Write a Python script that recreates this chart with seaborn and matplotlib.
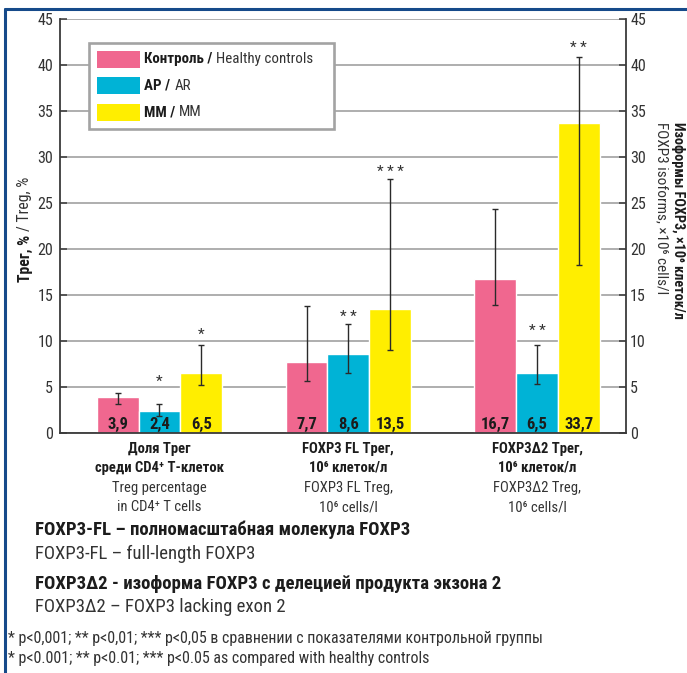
import matplotlib
matplotlib.use("Agg")
import matplotlib.pyplot as plt
import matplotlib.font_manager as fm
from matplotlib.lines import Line2D
from matplotlib.patches import Rectangle
from matplotlib.offsetbox import AnchoredOffsetbox, HPacker, VPacker, TextArea, DrawingArea
import numpy as np
import pandas as pd
import seaborn as sns

# ---------------- data ----------------
group_keys = ["treg_share", "foxp3_fl", "foxp3_d2"]
cohorts = ["Контроль", "АР", "ММ"]

control = [3.9, 7.7, 16.7]
ar = [2.4, 8.6, 6.5]
mm = [6.5, 13.5, 33.7]

# interquartile ranges (lower / upper whisker ends)
control_lo = [3.1, 5.6, 13.9]
control_hi = [4.3, 13.8, 24.3]
ar_lo = [1.8, 6.5, 5.3]
ar_hi = [3.2, 11.9, 9.6]
mm_lo = [5.2, 9.0, 18.3]
mm_hi = [9.6, 27.6, 40.9]

# significance marks vs. controls
control_marks = ["", "", ""]
ar_marks = ["*", "* *", "* *"]
mm_marks = ["*", "* * *", "* *"]
control_mark_y = [0, 0, 0]
ar_mark_y = [5.1, 12.2, 10.7]
mm_mark_y = [10.2, 27.9, 41.4]

legend_bold = ["Контроль /", "АР /", "ММ /"]
legend_regular = ["Healthy controls", "AR", "MM"]

cat_bold = [("Доля Трег", "среди CD4⁺ T-клеток"),
            ("FOXP3 FL Трег,", "10⁶ клеток/л"),
            ("FOXP3Δ2 Трег,", "10⁶ клеток/л")]
cat_regular = [("Treg percentage", "in CD4⁺ T cells"),
               ("FOXP3 FL Treg,", "10⁶ cells/l"),
               ("FOXP3Δ2 Treg,", "10⁶ cells/l")]

yticks = [0, 5, 10, 15, 20, 25, 30, 35, 40, 45]

notes = [("FOXP3-FL – полномасштабная молекула FOXP3", "bold"),
         ("FOXP3-FL – full-length FOXP3", "normal"),
         ("FOXP3Δ2 - изоформа FOXP3 с делецией продукта экзона 2", "bold"),
         ("FOXP3Δ2 – FOXP3 lacking exon 2", "normal")]
footnotes = ["* p<0,001; ** p<0,01; *** p<0,05 в сравнении с показателями контрольной группы",
             "* p<0.001; ** p<0.01; *** p<0.05 as compared with healthy controls"]

colors = {"Контроль": "#F0678F", "АР": "#00B3D6", "ММ": "#FFEE00"}

# ---------------- style ----------------
sns.set_style("white")
available = {f.name for f in fm.fontManager.ttflist}
base_font = next((n for n in ["Liberation Sans Narrow", "Roboto Condensed",
                              "Liberation Sans", "Roboto"] if n in available),
                 "DejaVu Sans")
plt.rcParams["font.family"] = [base_font, "DejaVu Sans"]

DARK = "#1c1c1c"
TXT = "#333333"
W, H = 687, 673


def fx(px):
    return px / W


def fy(py):
    return 1 - py / H


fig = plt.figure(figsize=(W / 100, H / 100), dpi=100)
ax = fig.add_axes([fx(60), fy(433), fx(626) - fx(60), fy(19) - fy(433)])

df = pd.DataFrame({
    "group": group_keys * 3,
    "cohort": np.repeat(cohorts, 3),
    "value": control + ar + mm,
})

sns.barplot(data=df, x="group", y="value", hue="cohort", order=group_keys,
            hue_order=cohorts, palette=colors, width=0.663, gap=0,
            errorbar=None, legend=False, saturation=1, ax=ax, zorder=2)

ax.set_xlim(-0.527, 2.471)
ax.set_ylim(0, 45)
ax.set_xlabel("")
ax.set_ylabel("")

# whiskers, value labels and significance marks
los = [control_lo, ar_lo, mm_lo]
his = [control_hi, ar_hi, mm_hi]
vals = [control, ar, mm]
marks = [control_marks, ar_marks, mm_marks]
mark_y = [control_mark_y, ar_mark_y, mm_mark_y]
for cont, v, lo, hi, mk, my in zip(ax.containers, vals, los, his, marks, mark_y):
    xs = np.array([b.get_x() + b.get_width() / 2 for b in cont])
    v = np.array(v)
    ax.errorbar(xs, v, yerr=[v - np.array(lo), np.array(hi) - v], fmt="none",
                ecolor="#2a2a2a", elinewidth=1.0, capsize=2.3, capthick=1.0,
                zorder=4)
    for x, val, m, h in zip(xs, v, mk, my):
        ax.annotate(f"{val:.1f}".replace(".", ","), xy=(x, 0), xytext=(0, 3),
                    textcoords="offset points", ha="center", va="baseline",
                    fontsize=12, fontweight="bold", color=DARK, zorder=5)
        if m:
            ax.text(x, h, m, ha="center", va="baseline", fontsize=11,
                    color=TXT, zorder=5)

# grid and spines
ax.yaxis.grid(True, color="#a8a8a8", lw=1.3)
ax.xaxis.grid(False)
ax.set_axisbelow(True)
for s in ["left", "bottom"]:
    ax.spines[s].set_color("#3a3a3a")
    ax.spines[s].set_linewidth(1.3)
ax.spines["top"].set_visible(False)
ax.spines["right"].set_visible(False)

ax.set_yticks(yticks)
ax.tick_params(axis="y", direction="in", length=5, width=1.1, color="#3a3a3a",
               pad=5, labelsize=11.5, labelcolor=TXT)
ax.set_xticks([0, 1, 2])
ax.set_xticklabels([])
ax.tick_params(axis="x", which="major", length=0)
ax.set_xticks([0.5, 1.5], minor=True)
ax.tick_params(axis="x", which="minor", direction="in", length=5, width=1.1,
               color="#3a3a3a")

ax2 = ax.twinx()
ax2.set_ylim(0, 45)
ax2.set_yticks(yticks)
ax2.tick_params(axis="y", direction="in", length=5, width=1.1, color="#3a3a3a",
                pad=3, labelsize=11.5, labelcolor=TXT)
for s in ["left", "bottom", "top"]:
    ax2.spines[s].set_visible(False)
ax2.spines["right"].set_color("#3a3a3a")
ax2.spines["right"].set_linewidth(1.3)

# category labels below the bars
xtr = ax.get_xaxis_transform()


def ax_y(py):
    return (433 - py) / (433 - 19)


for i, (b, r) in enumerate(zip(cat_bold, cat_regular)):
    ax.text(i, ax_y(449), b[0], transform=xtr, ha="center", va="center",
            fontsize=10.5, fontweight="bold", color=DARK, clip_on=False)
    ax.text(i, ax_y(468), b[1], transform=xtr, ha="center", va="center",
            fontsize=10.5, fontweight="bold", color=DARK, clip_on=False)
    ax.text(i, ax_y(488), r[0], transform=xtr, ha="center", va="center",
            fontsize=10.5, color=TXT, clip_on=False)
    ax.text(i, ax_y(507), r[1], transform=xtr, ha="center", va="center",
            fontsize=10.5, color=TXT, clip_on=False)

# legend with bold Russian and regular English parts
rows = []
for k, (name, bt, rt) in enumerate(zip(cohorts, legend_bold, legend_regular)):
    da = DrawingArea(31, 12.2, 0, 0)
    da.add_artist(Rectangle((0, 0), 31, 12.2, facecolor=colors[name],
                            edgecolor="none"))
    parts = [TextArea(bt, textprops=dict(fontsize=10.8, fontweight="bold", color=DARK)),
             TextArea(rt, textprops=dict(fontsize=10.8, color=TXT))]
    if k == 0:
        parts.append(DrawingArea(6, 1, 0, 0))
    texts = HPacker(children=parts, align="baseline", pad=0, sep=3)
    rows.append(HPacker(children=[da, texts], align="center", pad=0, sep=3))
legend_box = VPacker(children=rows, align="left", pad=0, sep=7.0)
anchored = AnchoredOffsetbox(loc="upper left", child=legend_box, pad=0.55,
                             borderpad=0, frameon=True, prop=dict(size=10),
                             bbox_to_anchor=(fx(89), fy(43)),
                             bbox_transform=fig.transFigure)
anchored.patch.set_boxstyle("square", pad=0)
anchored.patch.set_edgecolor("#a3a3a3")
anchored.patch.set_linewidth(1.9)
anchored.patch.set_facecolor("white")
anchored.set_zorder(6)
ax.add_artist(anchored)

# right axis title (two lines)
fig.text(fx(678), fy(122), "Изоформы FOXP3, ×10⁶ клеток/л", rotation=270,
         ha="center", va="top", fontsize=10.3, fontweight="bold", color=DARK)
fig.text(fx(662), fy(122), "FOXP3 isoforms, ×10⁶ cells/l", rotation=270,
         ha="center", va="top", fontsize=11, color=TXT)

# left axis title: bold part followed by regular part
t_bold = fig.text(fx(25), fy(282), "Трег, %", rotation=90, ha="center",
                  va="bottom", fontsize=11.3, fontweight="bold", color=DARK)
fig.canvas.draw()
bb = t_bold.get_window_extent(fig.canvas.get_renderer())
fig.text(fx(25), (bb.y1 + 4) / H, "/ Treg, %", rotation=90, ha="center",
         va="bottom", fontsize=11.3, color=TXT)

# explanatory notes
note_y = [530, 554, 584, 607]
for (txt, wt), py in zip(notes, note_y):
    fig.text(fx(35), fy(py), txt, ha="left", va="center", fontsize=13.5,
             fontweight=wt, color=DARK if wt == "bold" else TXT)
for txt, py in zip(footnotes, [638, 658]):
    fig.text(fx(8), fy(py), txt, ha="left", va="center", fontsize=11.5,
             color=TXT)

# page frame
frame_c = "#164a8a"
fig.add_artist(Line2D([fx(5), 1], [fy(9), fy(9)], color=frame_c, lw=2.2,
                      transform=fig.transFigure))
fig.add_artist(Line2D([fx(5), fx(5)], [fy(9), 0], color=frame_c, lw=2.2,
                      transform=fig.transFigure))

fig.savefig("out.png", dpi=100, facecolor="white")
